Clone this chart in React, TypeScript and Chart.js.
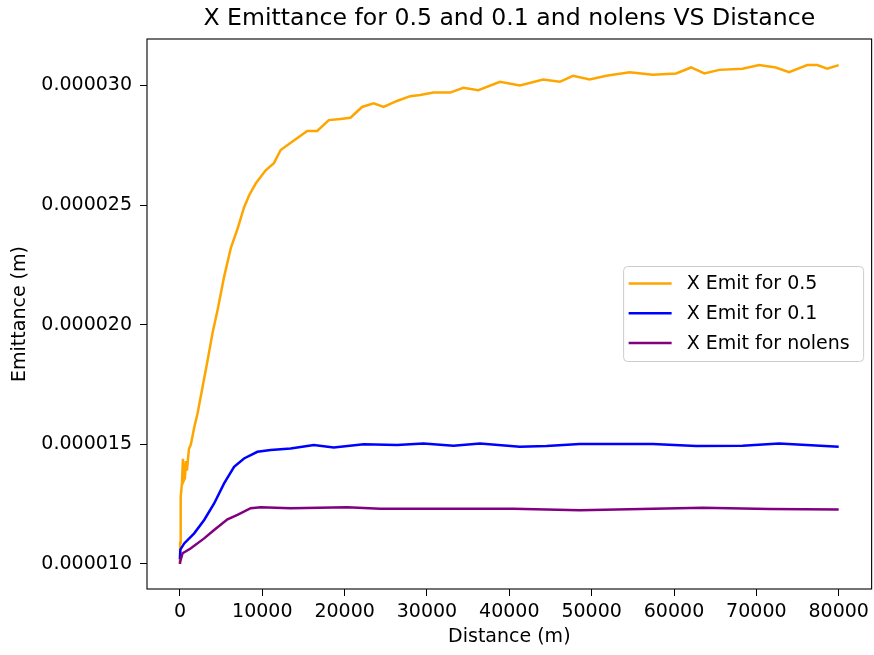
import { useEffect, useRef } from "react";
import { Chart, registerables } from "chart.js";

Chart.register(...registerables);

const TITLE = "X Emittance for 0.5 and 0.1 and nolens VS Distance";
const X_LABEL = "Distance (m)";
const Y_LABEL = "Emittance (m)";

const X_TICKS = [0, 10000, 20000, 30000, 40000, 50000, 60000, 70000, 80000];
const Y_TICKS = [0.00001, 0.000015, 0.00002, 0.000025, 0.00003];

const LABEL_05 = "X Emit for 0.5";
const LABEL_01 = "X Emit for 0.1";
const LABEL_NO = "X Emit for nolens";

const dist05 = [
  0, 30, 60, 121, 250, 363, 480, 605, 726, 847,
  1090, 1332, 1731, 2143, 2748, 3354, 3959, 4564, 5363, 6175,
  6986, 7785, 8390, 9201, 10412, 11417, 12228, 13838, 15461, 16671,
  18076, 19492, 20703, 22119, 23524, 24735, 26357, 27967, 29178, 30788,
  32810, 34420, 36236, 38863, 41284, 44105, 46128, 47738, 49760, 51782,
  54603, 57424, 60257, 62073, 63683, 65499, 68320, 70341, 72363, 73973,
  76189, 77400, 78611, 80000,
];
const emit05 = [
  10.0e-6, 10.9e-6, 11.8e-6, 12.8e-6, 13.4e-6, 14.4e-6, 13.5e-6, 13.6e-6, 14.3e-6, 13.9e-6,
  14.8e-6, 15.0e-6, 15.7e-6, 16.3e-6, 17.4e-6, 18.5e-6, 19.65e-6, 20.6e-6, 22.0e-6, 23.2e-6,
  24.0e-6, 24.9e-6, 25.4e-6, 25.9e-6, 26.45e-6, 26.75e-6, 27.3e-6, 27.7e-6, 28.1e-6, 28.1e-6,
  28.55e-6, 28.6e-6, 28.65e-6, 29.1e-6, 29.25e-6, 29.1e-6, 29.35e-6, 29.55e-6, 29.6e-6, 29.7e-6,
  29.7e-6, 29.9e-6, 29.8e-6, 30.15e-6, 30.0e-6, 30.25e-6, 30.15e-6, 30.4e-6, 30.25e-6, 30.4e-6,
  30.55e-6, 30.45e-6, 30.5e-6, 30.75e-6, 30.5e-6, 30.65e-6, 30.7e-6, 30.85e-6, 30.75e-6, 30.55e-6,
  30.85e-6, 30.85e-6, 30.7e-6, 30.85e-6,
];

const dist01 = [
  0, 50, 521, 1731, 2942, 4153, 5363, 6574, 7785, 9407,
  11017, 13439, 16260, 18681, 22313, 26357, 29578, 33210, 36442, 41284,
  44517, 48549, 57424, 62678, 68320, 72763, 80000,
];
const emit01 = [
  10.2e-6, 10.6e-6, 10.86e-6, 11.28e-6, 11.84e-6, 12.53e-6, 13.37e-6, 14.06e-6, 14.41e-6, 14.69e-6,
  14.76e-6, 14.83e-6, 14.97e-6, 14.87e-6, 15.0e-6, 14.97e-6, 15.04e-6, 14.94e-6, 15.04e-6, 14.9e-6,
  14.93e-6, 15.01e-6, 15.01e-6, 14.93e-6, 14.94e-6, 15.04e-6, 14.9e-6,
];

const distNo = [
  0, 30, 327, 1332, 2942, 4153, 5775, 6986, 8596, 9807,
  13439, 20303, 24335, 40474, 48549, 63478, 71553, 80000,
];
const emitNo = [
  10.0e-6, 10.1e-6, 10.45e-6, 10.66e-6, 11.07e-6, 11.42e-6, 11.87e-6, 12.05e-6, 12.33e-6, 12.37e-6,
  12.33e-6, 12.37e-6, 12.31e-6, 12.31e-6, 12.25e-6, 12.35e-6, 12.3e-6, 12.28e-6,
];

const zip = (xs: number[], ys: number[]) => xs.map((x, i) => ({ x, y: ys[i] }));

const FONT = "DejaVu Sans";

const decorPlugin = {
  id: "decor",
  afterDraw(chart: any) {
    const { ctx, chartArea } = chart;
    const { left, right, top, bottom } = chartArea;
    ctx.save();
    // frame
    ctx.strokeStyle = "#000";
    ctx.lineWidth = 1.1;
    ctx.strokeRect(left, top, right - left, bottom - top);

    // title
    ctx.fillStyle = "#000";
    ctx.font = `23.6px "${FONT}"`;
    ctx.textAlign = "center";
    ctx.textBaseline = "middle";
    ctx.fillText(TITLE, (left + right) / 2, 19);

    // axis labels
    ctx.font = `19px "${FONT}"`;
    ctx.fillText(X_LABEL, (left + right) / 2, 637);
    ctx.save();
    ctx.translate(20, (top + bottom) / 2);
    ctx.rotate(-Math.PI / 2);
    ctx.fillText(Y_LABEL, 0, 0);
    ctx.restore();

    // legend
    const ds = chart.data.datasets;
    const boxW = 240;
    const boxH = 95;
    const bx = right - 8 - boxW;
    const by = (top + bottom) / 2 - boxH / 2;
    ctx.beginPath();
    const r = 4;
    ctx.moveTo(bx + r, by);
    ctx.lineTo(bx + boxW - r, by);
    ctx.quadraticCurveTo(bx + boxW, by, bx + boxW, by + r);
    ctx.lineTo(bx + boxW, by + boxH - r);
    ctx.quadraticCurveTo(bx + boxW, by + boxH, bx + boxW - r, by + boxH);
    ctx.lineTo(bx + r, by + boxH);
    ctx.quadraticCurveTo(bx, by + boxH, bx, by + boxH - r);
    ctx.lineTo(bx, by + r);
    ctx.quadraticCurveTo(bx, by, bx + r, by);
    ctx.closePath();
    ctx.fillStyle = "rgba(255,255,255,0.8)";
    ctx.fill();
    ctx.strokeStyle = "#cccccc";
    ctx.lineWidth = 1;
    ctx.stroke();

    ctx.textAlign = "left";
    ctx.textBaseline = "middle";
    ds.forEach((d: any, i: number) => {
      const yy = by + 17 + i * 29.7;
      ctx.strokeStyle = d.borderColor;
      ctx.lineWidth = 2.5;
      ctx.beginPath();
      ctx.moveTo(bx + 5, yy);
      ctx.lineTo(bx + 48, yy);
      ctx.stroke();
      ctx.fillStyle = "#000";
      ctx.fillText(d.label, bx + 63, yy + 1);
    });
    ctx.restore();
  },
};

export default function App() {
  const ref = useRef<HTMLCanvasElement | null>(null);

  useEffect(() => {
    if (!ref.current) return;
    const chart = new Chart(ref.current, {
      type: "line",
      data: {
        datasets: [
          {
            label: LABEL_05,
            data: zip(dist05, emit05),
            borderColor: "#FFA500",
            borderWidth: 2.5,
            pointRadius: 0,
            tension: 0,
            order: 3,
          },
          {
            label: LABEL_01,
            data: zip(dist01, emit01),
            borderColor: "#0000FF",
            borderWidth: 2.5,
            pointRadius: 0,
            tension: 0,
            order: 2,
          },
          {
            label: LABEL_NO,
            data: zip(distNo, emitNo),
            borderColor: "#800080",
            borderWidth: 2.5,
            pointRadius: 0,
            tension: 0,
            order: 1,
          },
        ],
      },
      options: {
        animation: false,
        responsive: false,
        devicePixelRatio: 1,
        layout: { padding: { top: 39, right: 2, left: 0, bottom: 0 } },
        plugins: {
          legend: { display: false },
          title: { display: false },
          tooltip: { enabled: false },
        },
        scales: {
          x: {
            type: "linear",
            min: -4000,
            max: 84000,
            afterFit: (s: any) => {
              s.height = 66;
            },
            afterBuildTicks: (s: any) => {
              s.ticks = X_TICKS.map((v) => ({ value: v }));
            },
            border: { display: false },
            grid: {
              drawOnChartArea: false,
              drawTicks: true,
              tickLength: 7,
              color: "#000",
              lineWidth: 1,
            },
            ticks: {
              font: { family: FONT, size: 19 },
              color: "#000",
              padding: 5,
              maxRotation: 0,
              autoSkip: false,
              callback: (v: any) => String(v),
            },
          },
          y: {
            type: "linear",
            min: 8.955e-6,
            max: 31.94e-6,
            afterFit: (s: any) => {
              s.width = 147;
            },
            afterBuildTicks: (s: any) => {
              s.ticks = Y_TICKS.map((v) => ({ value: v }));
            },
            border: { display: false },
            grid: {
              drawOnChartArea: false,
              drawTicks: true,
              tickLength: 7,
              color: "#000",
              lineWidth: 1,
            },
            ticks: {
              font: { family: FONT, size: 19 },
              color: "#000",
              padding: 8,
              autoSkip: false,
              callback: (v: any) => Number(v).toFixed(6),
            },
          },
        },
      },
      plugins: [decorPlugin],
    });
    return () => chart.destroy();
  }, []);

  return (
    <div style={{ position: "absolute", left: 0, top: 0, width: 874, height: 655, background: "#fff" }}>
      <canvas ref={ref} width={874} height={655} />
    </div>
  );
}
